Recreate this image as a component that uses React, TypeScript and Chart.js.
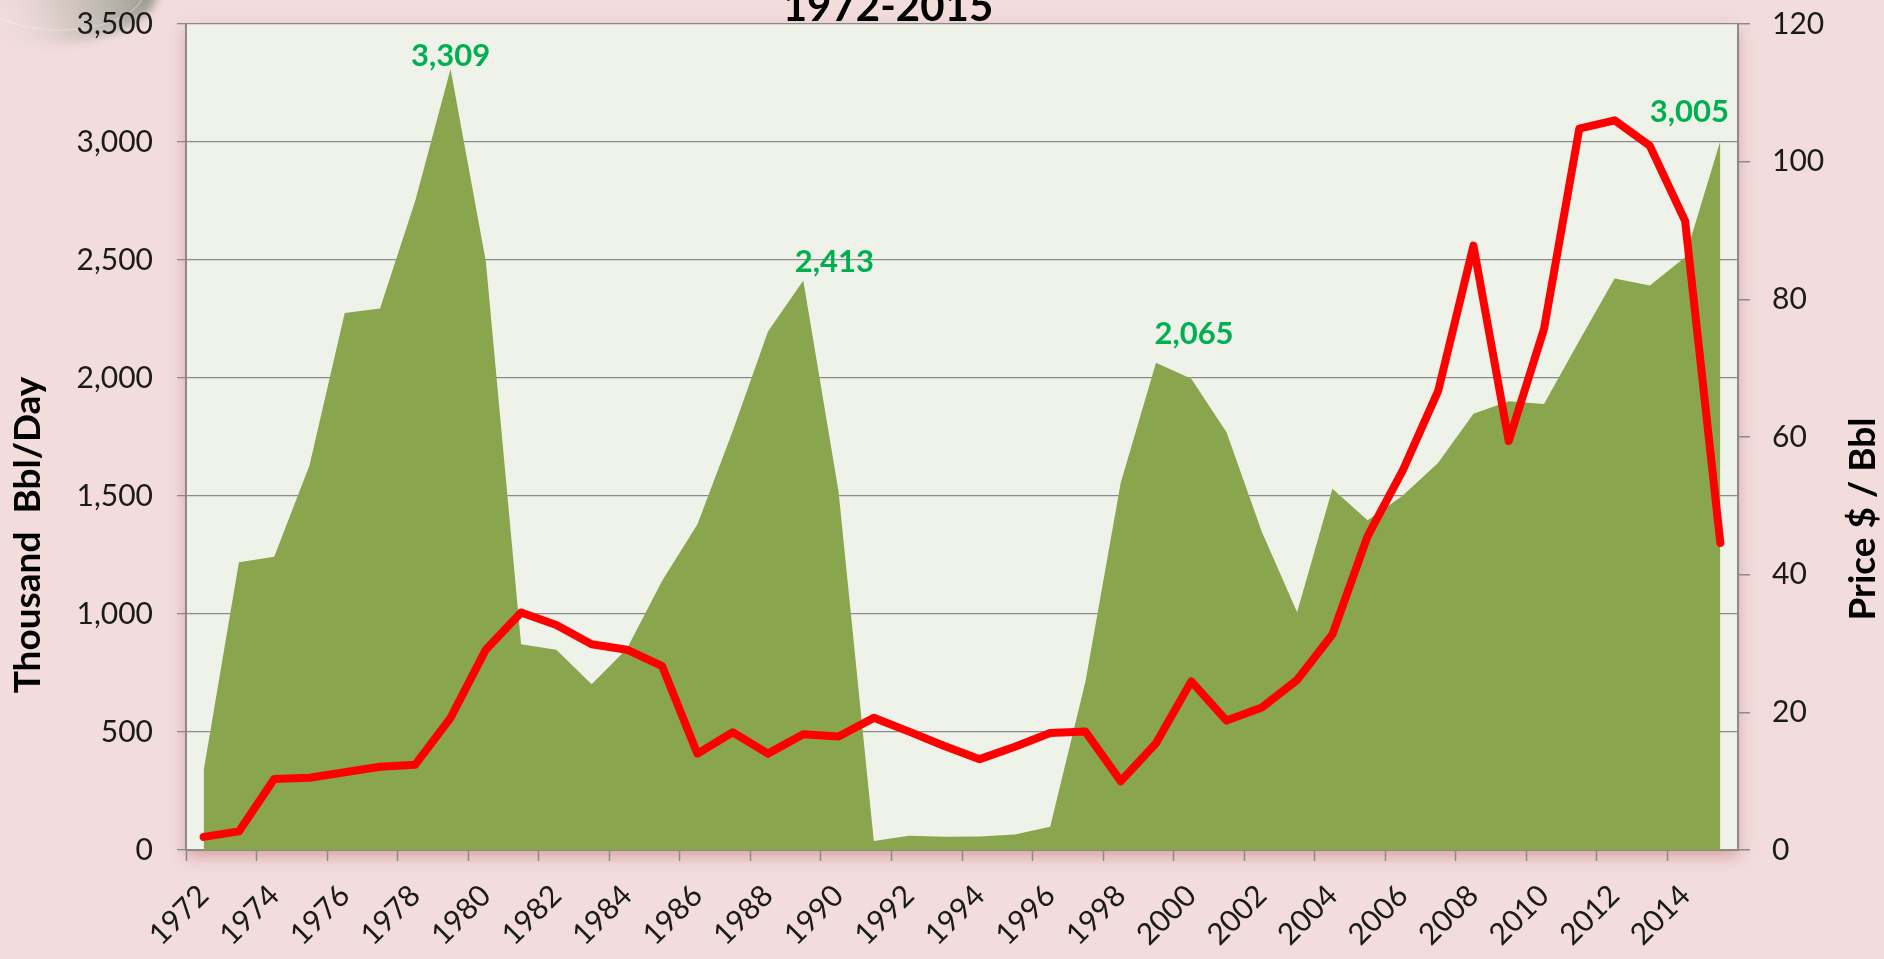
import React, { useEffect, useRef } from 'react';
import { Chart, registerables } from 'chart.js';

Chart.register(...registerables);

// ---- data ----
const years = [
  '1972', '1973', '1974', '1975', '1976', '1977', '1978', '1979', '1980', '1981',
  '1982', '1983', '1984', '1985', '1986', '1987', '1988', '1989', '1990', '1991',
  '1992', '1993', '1994', '1995', '1996', '1997', '1998', '1999', '2000', '2001',
  '2002', '2003', '2004', '2005', '2006', '2007', '2008', '2009', '2010', '2011',
  '2012', '2013', '2014', '2015',
];

// Thousand Bbl/Day (area)
const production = [
  336, 1219, 1243, 1629, 2275, 2295, 2751, 3309, 2495, 872,
  848, 702, 853, 1141, 1380, 1775, 2197, 2413, 1519, 38,
  60, 56, 57, 66, 99, 714, 1556, 2065, 1997, 1770,
  1348, 1007, 1531, 1397, 1502, 1641, 1848, 1902, 1890, 2158,
  2422, 2392, 2512, 3005,
];

// Price $ / Bbl (line)
const price = [
  1.9, 2.7, 10.3, 10.5, 11.3, 12.1, 12.4, 19.2, 29.1, 34.5,
  32.7, 29.9, 29.1, 26.7, 14.0, 17.1, 14.0, 16.8, 16.5, 19.2,
  17.2, 15.1, 13.2, 15.0, 17.0, 17.2, 10.0, 15.5, 24.5, 18.8,
  20.7, 24.7, 31.3, 45.6, 55.2, 66.7, 87.8, 59.4, 75.7, 104.8,
  106.0, 102.3, 91.4, 44.6,
];

const labelledYears = ['1979', '1989', '1999', '2015'];

const chartTitle = '1972-2015';
const leftAxisTitle = 'Thousand  Bbl/Day';
const rightAxisTitle = 'Price $ / Bbl';

const leftMax = 3500;
const leftStep = 500;
const rightMax = 120;
const rightStep = 20;

// ---- styles ----
const W = 1884;
const H = 959;
const PINK = '#F2DCDC';
const PLOT_BG = '#EFF2E9';
const OLIVE = '#89A54E';
const RED = '#FF0000';
const LABEL_GREEN = '#00B050';
const GRID = '#8A8A8A';
const FONT = 'Lato, "Open Sans", "DejaVu Sans", sans-serif';

// pixel nudges for the peak labels (style only)
const labelNudge: Record<string, [number, number]> = {
  '1979': [0, -13],
  '1989': [31, -19],
  '1999': [38, -29],
  '2015': [-31, -29],
};

const backgroundPlugin = {
  id: 'bgPlugin',
  beforeDraw(chart: any) {
    const { ctx, chartArea } = chart;
    ctx.save();
    ctx.fillStyle = PINK;
    ctx.fillRect(0, 0, chart.width, chart.height);

    // decorative corner shape
    ctx.save();
    ctx.filter = 'blur(4px)';
    ctx.beginPath();
    ctx.ellipse(45, -8, 112, 52, 0, 0, Math.PI * 2);
    const g = ctx.createLinearGradient(0, 50, 150, -5);
    g.addColorStop(0, 'rgba(242,220,220,0)');
    g.addColorStop(0.45, 'rgba(195,190,182,0.6)');
    g.addColorStop(1, 'rgba(150,150,140,0.95)');
    ctx.fillStyle = g;
    ctx.fill();
    ctx.filter = 'none';
    ctx.strokeStyle = 'rgba(255,255,255,0.3)';
    ctx.lineWidth = 1.2;
    ctx.beginPath();
    ctx.ellipse(60, -12, 85, 42, 0, Math.PI * 0.05, Math.PI * 0.95);
    ctx.stroke();
    ctx.restore();

    // plot area with shadow
    ctx.shadowColor = 'rgba(190,110,110,0.55)';
    ctx.shadowBlur = 14;
    ctx.shadowOffsetX = 0;
    ctx.shadowOffsetY = 6;
    ctx.fillStyle = PLOT_BG;
    ctx.fillRect(chartArea.left, chartArea.top, chartArea.right - chartArea.left, chartArea.bottom - chartArea.top);
    ctx.restore();
  },
};

const labelsPlugin = {
  id: 'labelsPlugin',
  afterDatasetsDraw(chart: any) {
    const { ctx } = chart;
    const xs = chart.scales.x;
    const ys = chart.scales.y;
    ctx.save();
    ctx.fillStyle = LABEL_GREEN;
    ctx.font = `bold 31px ${FONT}`;
    ctx.textAlign = 'center';
    ctx.textBaseline = 'middle';
    labelledYears.forEach((yr) => {
      const i = years.indexOf(yr);
      const v = production[i];
      const [dx, dy] = labelNudge[yr] || [0, -15];
      const px = xs.getPixelForValue(i) + dx;
      const py = ys.getPixelForValue(v) + dy;
      ctx.fillText(v.toLocaleString('en-US'), px, py);
    });
    ctx.restore();
  },
  afterDraw(chart: any) {
    const { ctx, chartArea } = chart;
    ctx.save();
    ctx.fillStyle = '#000';
    // title (partly off the top, like the reference)
    ctx.font = `bold 42px ${FONT}`;
    ctx.textAlign = 'center';
    ctx.textBaseline = 'alphabetic';
    ctx.fillText(chartTitle, 888, 21);

    // left axis title
    ctx.font = `bold 37px ${FONT}`;
    ctx.textBaseline = 'middle';
    ctx.save();
    ctx.translate(28, chartArea.bottom - 315);
    ctx.rotate(-Math.PI / 2);
    ctx.fillText(leftAxisTitle, 0, 0);
    ctx.restore();

    // right axis title (reads bottom-to-top)
    ctx.save();
    ctx.translate(1863, chartArea.bottom - 331);
    ctx.rotate(-Math.PI / 2);
    ctx.fillText(rightAxisTitle, 0, 0);
    ctx.restore();
    ctx.restore();
  },
};

const fixVertical = (width: number) => (s: any) => {
  s.width = width;
  s.paddingTop = 0;
  s.paddingBottom = 0;
};

export default function App() {
  const ref = useRef<HTMLCanvasElement | null>(null);

  useEffect(() => {
    if (!ref.current) return;
    const chart = new Chart(ref.current, {
      type: 'line',
      data: {
        labels: years,
        datasets: [
          {
            label: 'Price $ / Bbl',
            data: price,
            yAxisID: 'y2',
            borderColor: RED,
            backgroundColor: RED,
            borderWidth: 8,
            borderCapStyle: 'round',
            borderJoinStyle: 'round',
            pointRadius: 0,
            tension: 0,
            fill: false,
          },
          {
            label: 'Thousand Bbl/Day',
            data: production,
            yAxisID: 'y',
            borderColor: OLIVE,
            borderWidth: 0,
            backgroundColor: OLIVE,
            pointRadius: 0,
            tension: 0,
            fill: 'origin',
          },
        ],
      },
      options: {
        responsive: false,
        animation: false,
        devicePixelRatio: 1,
        layout: { padding: { top: 24, left: 0, right: 0, bottom: 0 } },
        plugins: {
          legend: { display: false },
          tooltip: { enabled: false },
          title: { display: false },
        },
        scales: {
          x: {
            type: 'category',
            offset: true,
            afterFit: (s: any) => { s.height = 109; s.paddingLeft = 0; s.paddingRight = 0; },
            grid: {
              offset: true,
              drawOnChartArea: false,
              drawTicks: true,
              tickLength: 11,
              tickWidth: 1.5,
              tickColor: (c: any) => (c.index % 2 === 0 ? GRID : 'rgba(0,0,0,0)'),
            },
            border: { display: true, color: GRID, width: 2 },
            ticks: {
              autoSkip: false,
              maxRotation: 45,
              minRotation: 45,
              padding: 17,
              color: '#1a1a1a',
              font: { family: FONT, size: 30 },
              callback: function (this: any, value: any, index: number) {
                return index % 2 === 0 ? years[index] : '';
              },
            },
          },
          y: {
            position: 'left',
            min: 0,
            max: leftMax,
            afterFit: fixVertical(186),
            grid: {
              color: GRID,
              lineWidth: 1.3,
              drawTicks: true,
              tickLength: 9,
            },
            border: { display: true, color: GRID, width: 2 },
            ticks: {
              stepSize: leftStep,
              padding: 24,
              color: '#1a1a1a',
              font: { family: FONT, size: 30 },
              callback: (v: any) => Number(v).toLocaleString('en-US'),
            },
          },
          y2: {
            position: 'right',
            min: 0,
            max: rightMax,
            afterFit: fixVertical(W - 1738),
            grid: {
              drawOnChartArea: false,
              drawTicks: true,
              tickLength: 12,
              color: GRID,
              lineWidth: 1.5,
            },
            border: { display: true, color: GRID, width: 2 },
            ticks: {
              stepSize: rightStep,
              padding: 22,
              color: '#1a1a1a',
              font: { family: FONT, size: 30 },
            },
          },
        },
      },
      plugins: [backgroundPlugin, labelsPlugin],
    } as any);
    return () => chart.destroy();
  }, []);

  return (
    <div style={{ position: 'fixed', left: 0, top: 0, width: W, height: H, background: PINK }}>
      <canvas ref={ref} width={W} height={H} style={{ display: 'block', width: W, height: H }} />
    </div>
  );
}
